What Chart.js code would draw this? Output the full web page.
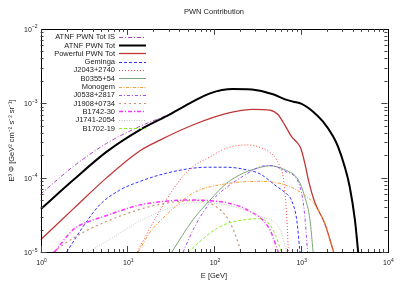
<!DOCTYPE html>
<html>
<head>
<meta charset="utf-8">
<script src="https://cdn.jsdelivr.net/npm/chart.js@4.4.0/dist/chart.umd.min.js"></script>
<style>
  html, body { margin: 0; padding: 0; background: #fff; }
  canvas { display: block; }
</style>
</head>
<body>
<canvas id="c" width="405" height="283"></canvas>
<script>
// energies (GeV) and E^3 flux values
const isE = [1, 2.38, 5.8, 14, 31, 57, 90, 165, 310, 480, 660, 820, 1025, 1390, 1800, 2360, 2700, 3220, 3670, 4220, 4600];
const isY = [6.0e-5, 1.41e-4, 2.9e-4, 4.9e-4, 7.2e-4, 1.05e-3, 1.36e-3, 1.55e-3, 1.5e-3, 1.32e-3, 1.13e-3, 1.05e-3, 9.8e-4, 7.7e-4, 5.7e-4, 3.6e-4, 2.6e-4, 1.4e-4, 7.6e-5, 2.7e-5, 1e-5];

const totE = [1, 2.38, 5.8, 14, 31, 57, 90, 165, 310, 480, 660, 820, 1025, 1390, 1800, 2360, 2700, 3220, 3670, 4220, 4600];
const totY = [3.76e-5, 9.3e-5, 2.24e-4, 4.4e-4, 7.1e-4, 1.05e-3, 1.36e-3, 1.55e-3, 1.5e-3, 1.32e-3, 1.13e-3, 1.05e-3, 9.8e-4, 7.7e-4, 5.7e-4, 3.6e-4, 2.6e-4, 1.4e-4, 7.6e-5, 2.7e-5, 1e-5];

const powE = [1, 2.38, 5.8, 14, 23.8, 57, 140, 285, 440, 550, 625, 690, 780, 900, 1000, 1110, 1250, 1460, 1900, 2400];
const powY = [1.46e-5, 3.8e-5, 1.0e-4, 2.3e-4, 3.2e-4, 5.1e-4, 7.3e-4, 8.3e-4, 8.1e-4, 7.0e-4, 5.6e-4, 4.6e-4, 3.6e-4, 3.0e-4, 2.5e-4, 1.6e-4, 8.5e-5, 4.6e-5, 2.4e-5, 1e-5];

const gemE = [2.0, 3.1, 4.8, 8.2, 14, 26, 57, 90, 140, 218, 340, 530, 660, 780, 900, 980];
const gemY = [1e-5, 2.2e-5, 4.3e-5, 6.8e-5, 8.9e-5, 1.12e-4, 1.34e-4, 1.38e-4, 1.38e-4, 1.3e-4, 1.12e-4, 7.6e-5, 6.3e-5, 5.0e-5, 2.7e-5, 1e-5];

const j2043E = [13, 18.3, 24, 40.5, 57, 90, 140, 240, 340, 480, 580, 630, 670, 700, 720];
const j2043Y = [1e-5, 2.1e-5, 3.7e-5, 9.3e-5, 1.4e-4, 1.9e-4, 2.5e-4, 2.75e-4, 2.55e-4, 2.0e-4, 1.4e-4, 1.0e-4, 5e-5, 2.2e-5, 1e-5];

const b0355E = [32.6, 57, 90, 140, 218, 340, 440, 660, 940, 1110, 1280, 1390];
const b0355Y = [1e-5, 2.7e-5, 5.0e-5, 8.4e-5, 1.15e-4, 1.37e-4, 1.44e-4, 1.27e-4, 9.3e-5, 5.6e-5, 2.7e-5, 1e-5];

const monoE = [13.4, 18, 23.8, 57.5, 140, 340, 660, 1025, 1460, 1900, 2400];
const monoY = [1e-5, 1.8e-5, 2.6e-5, 6.2e-5, 8.3e-5, 8.9e-5, 8e-5, 6.2e-5, 4.3e-5, 2.4e-5, 1e-5];

const j0538E = [44, 60, 90, 140, 218, 340, 440, 660, 980, 1110, 1200];
const j0538Y = [1e-5, 2.2e-5, 4.6e-5, 7.4e-5, 1.05e-4, 1.4e-4, 1.46e-4, 1.22e-4, 7.6e-5, 3.2e-5, 1e-5];

const j1908E = [1.4, 2, 3, 5, 10, 20, 40, 60, 75, 118, 150, 180, 205];
const j1908Y = [1e-5, 1.35e-5, 1.8e-5, 2.4e-5, 3.3e-5, 4.2e-5, 4.8e-5, 4.9e-5, 4.8e-5, 3.7e-5, 2.6e-5, 1.6e-5, 1e-5];

const b1742E = [1.45, 2.38, 3.7, 5.8, 9, 14, 27, 50, 90, 140, 240, 440, 550];
const b1742Y = [1e-5, 2e-5, 2.6e-5, 3.1e-5, 3.7e-5, 4.3e-5, 4.8e-5, 5.0e-5, 4.9e-5, 4.6e-5, 3.7e-5, 2e-5, 1e-5];

const j1741E = [3.55, 5.8, 14, 27, 57, 140, 340, 580, 690];
const j1741Y = [1e-5, 1.4e-5, 2.6e-5, 3.7e-5, 4.6e-5, 4.3e-5, 3e-5, 2e-5, 1e-5];

const b1702E = [50.6, 90, 140, 218, 340, 480, 600];
const b1702Y = [1e-5, 1.8e-5, 2.4e-5, 2.7e-5, 2.8e-5, 2e-5, 1e-5];

const xTicks = [1, 10, 100, 1000, 10000];
const yTicks = [1e-5, 1e-4, 1e-3, 1e-2];

function pts(xs, ys) {
    return xs.map((x, i) => ({ x: x, y: ys[i] }));
}

// label, x, y, colour, dash, width
const series = [
    ['ATNF PWN Tot IS', isE, isY, '#b040c8', [4, 2, 1, 2], 1],
    ['ATNF PWN Tot', totE, totY, '#000000', [], 2],
    ['Powerful PWN Tot', powE, powY, '#c03535', [], 1.3],
    ['Geminga', gemE, gemY, '#3030ff', [3, 2], 1],
    ['J2043+2740', j2043E, j2043Y, '#ff4444', [1, 2], 1],
    ['B0355+54', b0355E, b0355Y, '#7aa87a', [], 1],
    ['Monogem', monoE, monoY, '#ff9a30', [3, 1.5, 1, 1.5], 1],
    ['J0538+2817', j0538E, j0538Y, '#9a50ff', [3, 2, 1, 2], 1],
    ['J1908+0734', j1908E, j1908Y, '#c89070', [2, 3], 1.2],
    ['B1742-30', b1742E, b1742Y, '#ff30ff', [4, 2, 1, 2], 1.5],
    ['J1741-2054', j1741E, j1741Y, '#c4c4c4', [1, 1.5], 1],
    ['B1702-19', b1702E, b1702Y, '#88ee22', [3, 2], 1]
];

const datasets = series.map((s, i) => ({
    label: s[0],
    data: pts(s[1], s[2]),
    borderColor: s[3],
    borderDash: s[4],
    borderWidth: s[5],
    pointRadius: 0,
    fill: false,
    cubicInterpolationMode: 'monotone',
    order: series.length - i   // later series on top, like gnuplot
}));

const FONT = '"Liberation Sans", Arial, sans-serif';

// "10" with a raised exponent
function drawPow(ctx, exp, x, y, align) {
    ctx.font = '7px ' + FONT;
    const wb = ctx.measureText('10').width;
    ctx.font = '5px ' + FONT;
    const we = ctx.measureText(exp).width;
    const w = wb + we;
    let x0 = x;
    if (align === 'center') x0 = x - w / 2;
    if (align === 'right') x0 = x - w;
    ctx.textAlign = 'left';
    ctx.textBaseline = 'alphabetic';
    ctx.font = '7px ' + FONT;
    ctx.fillText('10', x0, y);
    ctx.font = '5px ' + FONT;
    ctx.fillText(exp, x0 + wb, y - 3.5);
}

const framePlugin = {
    id: 'frame',
    afterDraw(chart) {
        const ctx = chart.ctx;
        const a = chart.chartArea;
        const xs = chart.scales.x, ys = chart.scales.y;
        ctx.save();
        ctx.strokeStyle = '#000';
        ctx.lineWidth = 1;
        ctx.strokeRect(Math.round(a.left) + 0.5, Math.round(a.top) + 0.5,
            Math.round(a.right - a.left), Math.round(a.bottom - a.top));

        // inward ticks on all four sides
        ctx.strokeStyle = '#444';
        ctx.beginPath();
        for (let k = 0; k < 4; k++) {
            for (let m = 1; m <= 9; m++) {
                const v = m * Math.pow(10, k);
                const px = Math.round(xs.getPixelForValue(v)) + 0.5;
                const len = m === 1 ? 6 : 3;
                ctx.moveTo(px, a.bottom); ctx.lineTo(px, a.bottom - len);
                ctx.moveTo(px, a.top); ctx.lineTo(px, a.top + len);
            }
        }
        for (let k = -5; k < -2; k++) {
            for (let m = 1; m <= 9; m++) {
                const v = m * Math.pow(10, k);
                const py = Math.round(ys.getPixelForValue(v)) + 0.5;
                const len = m === 1 ? 6 : 3;
                ctx.moveTo(a.left, py); ctx.lineTo(a.left + len, py);
                ctx.moveTo(a.right, py); ctx.lineTo(a.right - len, py);
            }
        }
        ctx.stroke();

        // tick labels
        ctx.fillStyle = '#222';
        xTicks.forEach(v => {
            const px = xs.getPixelForValue(v);
            drawPow(ctx, String(Math.round(Math.log10(v))), px + 1, a.bottom + 13, 'center');
        });
        yTicks.forEach(v => {
            const py = ys.getPixelForValue(v);
            const e = String(Math.round(Math.log10(v))).replace('-', '\u2212');
            drawPow(ctx, e, a.left - 3, py + 3, 'right');
        });

        // titles
        ctx.fillStyle = '#222';
        ctx.font = '7.5px ' + FONT;
        ctx.textAlign = 'center';
        ctx.textBaseline = 'middle';
        ctx.fillText('PWN Contribution', (a.left + a.right) / 2, 12);
        ctx.fillText('E [GeV]', (a.left + a.right) / 2, 276);
        ctx.save();
        ctx.translate(12, (a.top + a.bottom) / 2);
        ctx.rotate(-Math.PI / 2);
        ctx.fillText('E\u00b3 \u03a6 [GeV\u00b2 cm\u207b\u00b2 s\u207b\u00b2 sr\u207b\u00b9]', 0, 0);
        ctx.restore();

        // legend, text right aligned with sample on the right
        ctx.font = '7.5px ' + FONT;
        ctx.textAlign = 'right';
        ctx.textBaseline = 'middle';
        datasets.forEach((d, i) => {
            const y = 36.7 + i * 8.3;
            ctx.fillStyle = '#222';
            ctx.fillText(d.label, 115, y + 0.5);
            ctx.strokeStyle = d.borderColor;
            ctx.lineWidth = d.borderWidth;
            ctx.setLineDash(d.borderDash);
            ctx.beginPath();
            ctx.moveTo(119, Math.round(y) + 0.5);
            ctx.lineTo(146, Math.round(y) + 0.5);
            ctx.stroke();
        });
        ctx.setLineDash([]);
        ctx.restore();
    }
};

new Chart(document.getElementById('c'), {
    type: 'line',
    data: { datasets: datasets },
    options: {
        responsive: false,
        animation: false,
        devicePixelRatio: 1,
        layout: { padding: { top: 28.9, right: 17.6, left: 0, bottom: 0 } },
        plugins: {
            legend: { display: false },
            title: { display: false },
            tooltip: { enabled: false }
        },
        scales: {
            x: {
                type: 'logarithmic',
                min: 1,
                max: 10000,
                ticks: { display: false },
                grid: { display: false },
                border: { display: false },
                afterFit: s => { s.height = 31; }
            },
            y: {
                type: 'logarithmic',
                min: 1e-5,
                max: 1e-2,
                ticks: { display: false },
                grid: { display: false },
                border: { display: false },
                afterFit: s => { s.width = 40.6; }
            }
        }
    },
    plugins: [framePlugin]
});
</script>
</body>
</html>
